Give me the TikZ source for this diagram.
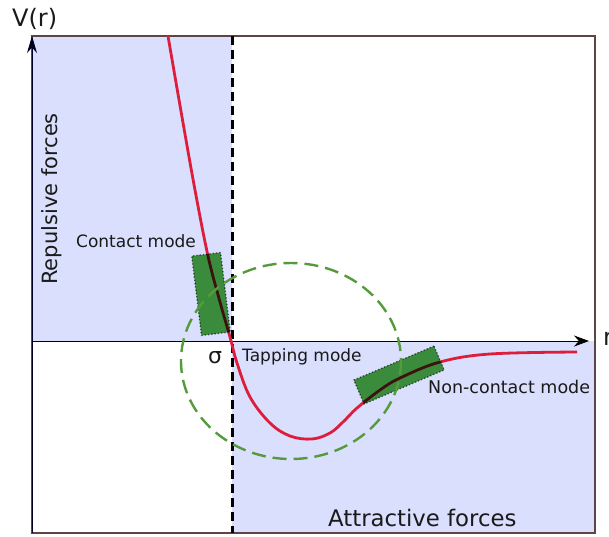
\documentclass[tikz,border=0pt]{standalone}
\usepackage{fontspec}
\setmainfont{DejaVu Sans}
\usetikzlibrary{arrows.meta}
\definecolor{Region}{HTML}{D9DFFC}
\definecolor{Frame}{HTML}{5E4444}
\definecolor{Curve}{HTML}{DC1E3C}
\definecolor{Probe}{HTML}{46A03E}
\definecolor{Ring}{HTML}{559B3C}
\definecolor{Ink}{HTML}{1A1A1A}

\begin{document}
\begin{tikzpicture}[x=1pt,y=-1pt,
    modebox/.style={draw=black!60,dotted,line width=1.3pt,fill=Probe,blend mode=multiply,inner sep=0pt},
    lbl/.style={text=Ink,inner sep=0pt}]
    \useasboundingbox (0,0) rectangle (609,536);

    % shaded force regions
    \fill[Region] (32,36) rectangle (232,341);
    \fill[Region] (232,341) rectangle (595,533);
    \draw[Frame,line width=1.4pt] (32,36) rectangle (595,533);

    % axes and sigma line
    \coordinate (origin) at (32,341);
    \coordinate (rend) at (589,341);
    \coordinate (vbot) at (32,533);
    \coordinate (vtop) at (32,36);
    \coordinate (stop) at (232,36);
    \coordinate (sbot) at (232,533);
    \draw[black,line width=3pt,dash pattern=on 9pt off 5pt] (stop) -- (sbot);
    \draw[black,line width=0.9pt,-{Stealth[length=15pt,width=11pt]}] (origin) -- (rend);
    \draw[black!85!blue,line width=1pt,-{Stealth[length=17pt,width=10pt]}] (vbot) -- (vtop);

    % potential curve
    \draw[Curve,line width=2.8pt] plot[smooth,tension=0.6] coordinates
      {(168,36) (182,117) (195,190) (208,256) (220,302) (230,337) (237,363) (250,397)
       (270,423) (290,436) (312,439) (330,433) (343,422) (357,408) (380,390) (400,378)
       (440,362) (490,354) (577,352)};

    % probe positions
    \node[modebox,minimum width=29pt,minimum height=80pt,rotate=7] (contact) at (211,294) {};
    \node[modebox,minimum width=87pt,minimum height=26pt,rotate=23] (noncontact) at (399,375) {};
    \draw[Ring,line width=2.4pt,dash pattern=on 14pt off 7pt] (291,361) ellipse (110 and 98);

    % labels
    \node[lbl,anchor=base west,font=\fontsize{24}{28}\selectfont] (vlabel) at (12,26) {V(r)};
    \node[lbl,anchor=base west,font=\fontsize{24}{28}\selectfont] (rlabel) at (603,345) {r};
    \node[lbl,anchor=base west,rotate=90,font=\fontsize{21}{24}\selectfont] (repulsive) at (57,285) {Repulsive forces};
    \node[lbl,anchor=base west,font=\fontsize{22.8}{26}\selectfont] (attractive) at (328,526) {Attractive forces};
    \node[lbl,anchor=base west,font=\fontsize{17}{20}\selectfont] (contactlbl) at (76,247) {Contact mode};
    \node[lbl,anchor=base west,font=\fontsize{17}{20}\selectfont] (tappinglbl) at (242,361) {Tapping mode};
    \node[lbl,anchor=base west,font=\fontsize{17.5}{20}\selectfont] (noncontactlbl) at (428,393) {Non-contact mode};
    \node[lbl,anchor=base west,font=\fontsize{22}{26}\selectfont] (sigma) at (208,363) {σ};
  \end{tikzpicture}
\end{document}
